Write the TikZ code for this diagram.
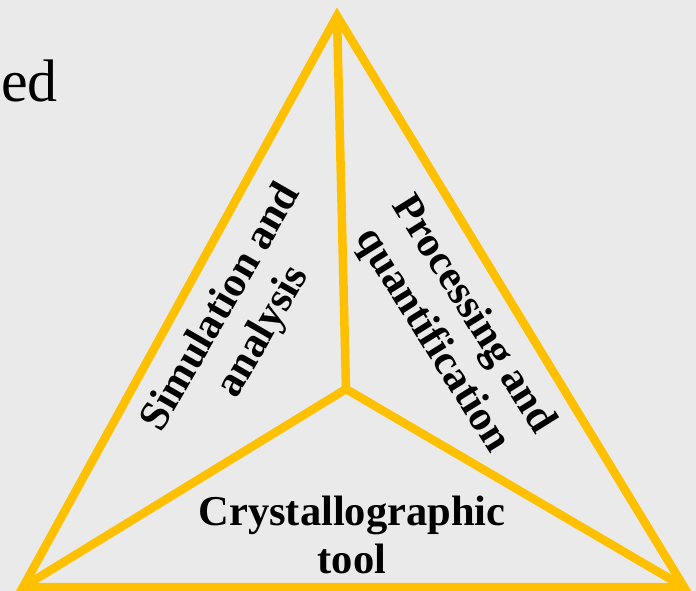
\documentclass[tikz,border=0pt]{standalone}
\usepackage{fontspec}
\setmainfont{Liberation Serif}
\definecolor{gold}{HTML}{FFC000}
\definecolor{bgc}{HTML}{EAEAEA}
\begin{document}
\begin{tikzpicture}[x=1pt,y=-1pt,
  edge/.style={draw=gold, line width=8.5pt},
  lbl/.style={font=\fontsize{42.5}{48}\selectfont\bfseries, align=center, inner sep=0pt, text=black}]
\fill[bgc] (0,0) rectangle (696,591);
\useasboundingbox (0,0) rectangle (696,591);
\coordinate (A) at (337,16);
\coordinate (B) at (23,587);
\coordinate (C) at (684,587);
\coordinate (O) at (346,389);
\draw[edge, line join=miter] (A) -- (B) -- (C) -- cycle;
\draw[edge] (O) -- (A);
\draw[edge] (O) -- (B);
\draw[edge] (O) -- (C);
\node[anchor=base west, inner sep=0pt, font=\fontsize{60}{60}\selectfont] (ed) at (1,102) {ed};
\node[lbl, rotate=60] (sim) at (243,320) {Simulation and\\analysis};
\node[lbl, rotate=-58] (proc) at (452,328) {Processing and\\quantification};
\node[lbl, anchor=base] (cry) at (352,525) {Crystallographic};
\node[lbl, anchor=base] (tool) at (352,573) {tool};
\end{tikzpicture}
\end{document}
